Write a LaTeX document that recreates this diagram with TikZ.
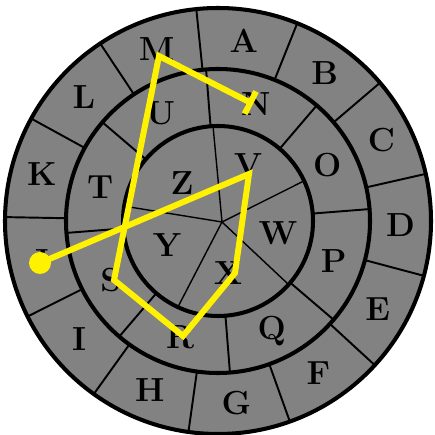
\documentclass[tikz,border=0pt]{standalone}
\usetikzlibrary{arrows.meta}
\definecolor{disc}{RGB}{130,130,130}
\definecolor{hilite}{RGB}{255,242,0}
\tikzset{
  rim/.style={draw, line width=2.3pt},
  sep/.style={draw, line width=1.1pt},
  spk/.style={draw, line width=0.8pt},
  ltr/.style={font=\fontsize{19}{19}\selectfont\bfseries, inner sep=0pt},
  trail/.style={draw=hilite, line width=3.4pt, -{Bar[width=5mm]}}
}
\begin{document}
\begin{tikzpicture}
	\useasboundingbox (-4.36,-4.28) rectangle (4.34,4.42);
	% disc and the three rings
	\fill[disc] (0,0) circle (4.26);
	\draw[rim] (0,0) circle (4.26);
	\draw[rim] (0,0) circle (3.04);
	\draw[rim] (0,0) circle (1.90);
	% outer ring: 13 cells
	\foreach \k in {0,...,12} { \draw[sep] (95.85-27.69*\k:3.04) -- (95.85-27.69*\k:4.26); }
	% middle ring: 8 cells
	\foreach \k in {0,...,7} { \draw[sep] (94.5-45*\k:1.90) -- (94.5-45*\k:3.04); }
	% inner disc: 5 cells round an off-centre hub
	\coordinate (hub) at (0.08,-0.02);
	\foreach \a in {93, 25, -42, -115, 171} { \draw[spk] (hub) -- (\a:1.90); }
	% letters
	\foreach \l/\a in {A/81.9, B/54.2, C/26.5, D/-1.2, E/-28.9, F/-56.6, G/-84.2, H/-111.9, I/-139.6, J/-167.3, K/165.0, L/137.3, M/109.6} { \node[ltr] (\l) at (\a:3.65) {\l}; }
	\foreach \l/\a in {N/72, O/27, P/-19, Q/-64, R/-108, S/-151, T/164, U/118} { \node[ltr] (\l) at (\a:2.45) {\l}; }
	\node[ltr] (V) at (0.60,1.12) {V};
	\node[ltr] (W) at (1.20,-0.24) {W};
	\node[ltr] (X) at (0.20,-1.04) {X};
	\node[ltr] (Y) at (-1.02,-0.48) {Y};
	\node[ltr] (Z) at (-0.72,0.76) {Z};
	% the traced word
	\coordinate (pJ) at (-3.56,-0.84);
	\coordinate (pV) at (0.62,0.94);
	\coordinate (pX) at (0.34,-1.04);
	\coordinate (pR) at (-0.70,-2.30);
	\coordinate (pS) at (-2.08,-1.18);
	\coordinate (pM) at (-1.18,3.30);
	\coordinate (pN) at (0.70,2.34);
	\fill[hilite] (pJ) circle (0.22);
	\draw[trail] (pJ) -- (pV) -- (pX) -- (pR) -- (pS) -- (pM) -- (pN);
\end{tikzpicture}
\end{document}
